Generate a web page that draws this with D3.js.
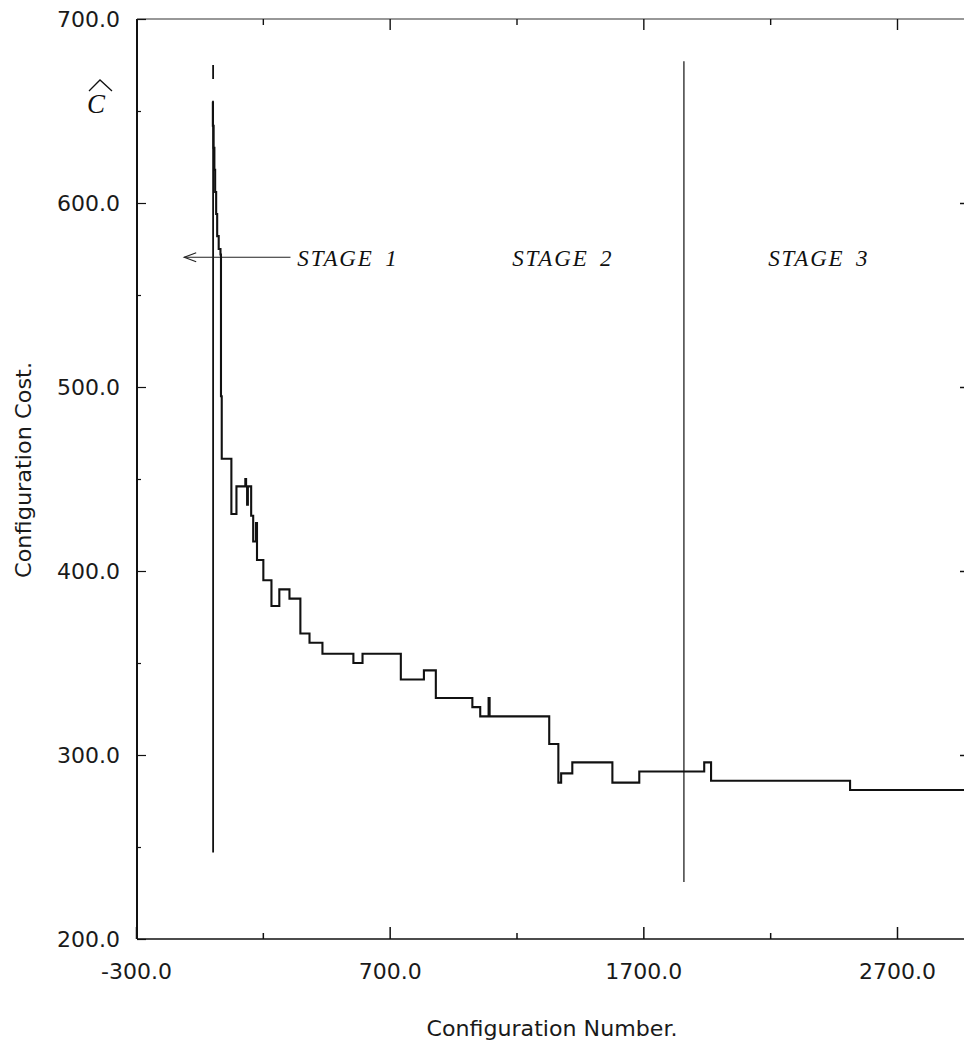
<!DOCTYPE html>
<html>
<head>
<meta charset="utf-8">
<script src="https://cdn.jsdelivr.net/npm/d3@7"></script>
<style>
  body { margin: 0; background: #fff; }
  svg { display: block; }
  .axis path { display: none; }
  .axis text { font-family: "DejaVu Sans", sans-serif; font-size: 22px; fill: #1a1a1a; }
</style>
</head>
<body>
<div id="chart"></div>
<script>
/// COST vs CONFIGURATION NUMBER (step trace) ///
const configNumber = [
  0, 3, 6, 9, 12, 16, 20, 26, 33, 35, 38, 76, 96, 131, 134, 138, 141, 154,
  162, 173, 177, 202, 234, 265, 305, 348, 384, 435, 557, 593, 744, 835, 882,
  1026, 1057, 1090, 1094, 1329, 1365, 1376, 1420, 1578, 1684, 1940, 1967,
  2515, 3000,
];
const configCost = [
  655, 642, 630, 618, 606, 594, 582, 575, 572, 495, 461, 431, 446, 450, 446,
  436, 446, 430, 416, 426, 406, 395, 381, 390, 385, 366, 361, 355, 350, 355,
  341, 346, 331, 326, 321, 331, 321, 306, 285, 290, 296, 285, 291, 296, 286,
  281, 281,
];

const xTickLabels = [-300, 700, 1700, 2700];
const xMinorTicks = [200, 1200, 2200];
const yTickLabels = [200, 300, 400, 500, 600, 700];
const yMinorTicks = [250, 350, 450, 550, 650];

// stage boundaries: [x, cost from, cost to]
const stageLines = [
  [4, 247, 675],
  [1860, 231, 677],
];
const stageNames = ["STAGE 1", "STAGE 2", "STAGE 3"];
const stageLabelX = [336, 1183, 2192];
const stageLabelCost = 566;
const arrowFrom = [309, 570.5];
const arrowTo = [-110, 570.5];

const W = 964, H = 1046;
const svg = d3
  .select("#chart")
  .append("svg")
  .attr("width", W)
  .attr("height", H);

// Define scales
const x = d3.scaleLinear().domain([-300, 2700]).range([136, 897]);
const y = d3.scaleLinear().domain([200, 700]).range([939, 19]);
const xRight = 965;

// frame lines
svg.append("line") // left
  .attr("x1", 137).attr("x2", 137).attr("y1", 19).attr("y2", 939)
  .attr("stroke", "#111").attr("stroke-width", 2);
svg.append("line") // bottom
  .attr("x1", 137).attr("x2", xRight).attr("y1", 939).attr("y2", 939)
  .attr("stroke", "#111").attr("stroke-width", 1.6);
svg.append("line") // top
  .attr("x1", 137).attr("x2", xRight).attr("y1", 19).attr("y2", 19)
  .attr("stroke", "#333").attr("stroke-width", 1.2);

// bottom axis, labels + major ticks
svg.append("g")
  .attr("class", "axis")
  .attr("transform", "translate(0,939)")
  .call(d3.axisBottom(x).tickValues(xTickLabels).tickSize(-12).tickPadding(24)
    .tickFormat((d) => (d < 0 ? "-" + Math.abs(d).toFixed(1) : d.toFixed(1))))
  .selectAll("line").attr("stroke", "#111").attr("stroke-width", 1.5);
svg.append("g")
  .attr("class", "axis")
  .attr("transform", "translate(0,939)")
  .call(d3.axisBottom(x).tickValues(xMinorTicks).tickSize(-6).tickFormat(""))
  .selectAll("line").attr("stroke", "#111").attr("stroke-width", 1.5);

// top axis (ticks only)
svg.append("g")
  .attr("class", "axis")
  .attr("transform", "translate(0,19)")
  .call(d3.axisTop(x).tickValues(xTickLabels.slice(1)).tickSize(-11).tickFormat(""))
  .selectAll("line").attr("stroke", "#111").attr("stroke-width", 1.4);
svg.append("g")
  .attr("class", "axis")
  .attr("transform", "translate(0,19)")
  .call(d3.axisTop(x).tickValues(xMinorTicks).tickSize(-6).tickFormat(""))
  .selectAll("line").attr("stroke", "#111").attr("stroke-width", 1.4);

// left axis
svg.append("g")
  .attr("class", "axis")
  .attr("transform", "translate(137,0)")
  .call(d3.axisLeft(y).tickValues(yTickLabels).tickSize(-9).tickPadding(17)
    .tickFormat((d) => d.toFixed(1)))
  .selectAll("line").attr("stroke", "#111").attr("stroke-width", 1.2);
svg.append("g")
  .attr("class", "axis")
  .attr("transform", "translate(137,0)")
  .call(d3.axisLeft(y).tickValues(yMinorTicks).tickSize(-4).tickFormat(""))
  .selectAll("line").attr("stroke", "#111").attr("stroke-width", 1.2);

// right axis (ticks only, the edge itself is cut off)
svg.append("g")
  .attr("class", "axis")
  .attr("transform", `translate(${xRight},0)`)
  .call(d3.axisRight(y).tickValues(yTickLabels.slice(1, 5)).tickSize(-5).tickFormat(""))
  .selectAll("line").attr("stroke", "#111").attr("stroke-width", 1.5);

// axis titles
svg.append("text")
  .attr("x", 552).attr("y", 1036)
  .attr("text-anchor", "middle")
  .attr("textLength", 251).attr("lengthAdjust", "spacingAndGlyphs")
  .style("font-family", "DejaVu Sans, sans-serif")
  .style("font-size", "21px").attr("fill", "#1a1a1a")
  .text("Configuration Number.");

svg.append("text")
  .attr("transform", "translate(31,470) rotate(-90)")
  .attr("text-anchor", "middle")
  .attr("textLength", 216).attr("lengthAdjust", "spacingAndGlyphs")
  .style("font-family", "DejaVu Sans, sans-serif")
  .style("font-size", "21px").attr("fill", "#1a1a1a")
  .text("Configuration Cost.");

// C-hat symbol
svg.append("text")
  .attr("x", 87).attr("y", 113)
  .style("font-family", "Liberation Serif, serif")
  .style("font-style", "italic")
  .style("font-size", "27px").attr("fill", "#111")
  .text("C");
svg.append("path")
  .attr("d", "M89,91 L100,80 L112,91")
  .attr("fill", "none").attr("stroke", "#111").attr("stroke-width", 1.3);

// stage boundary lines
svg.append("g")
  .selectAll("line")
  .data(stageLines)
  .join("line")
  .attr("x1", (d) => x(d[0]))
  .attr("x2", (d) => x(d[0]))
  .attr("y1", (d) => y(d[2]))
  .attr("y2", (d) => y(d[1]))
  .attr("stroke", "#111")
  .attr("stroke-width", (d, i) => (i === 0 ? 1.8 : 1.2))
  .attr("stroke-dasharray", (d, i) => (i === 0 ? "14,23,2000" : null));

// stage labels
svg.append("g")
  .selectAll("text")
  .data(stageNames)
  .join("text")
  .attr("x", (d, i) => x(stageLabelX[i]))
  .attr("y", y(stageLabelCost))
  .style("font-family", "Liberation Serif, serif")
  .style("font-style", "italic")
  .style("font-size", "23px")
  .style("letter-spacing", "1.8px")
  .style("word-spacing", "4px")
  .attr("fill", "#111")
  .text((d) => d);

// arrow pointing into stage 1
svg.append("line")
  .attr("x1", x(arrowFrom[0])).attr("y1", y(arrowFrom[1]))
  .attr("x2", x(arrowTo[0])).attr("y2", y(arrowTo[1]))
  .attr("stroke", "#222").attr("stroke-width", 1.1);
svg.append("path")
  .attr("d", `M${x(arrowTo[0]) + 12},${y(arrowTo[1]) - 4.5} L${x(arrowTo[0])},${y(arrowTo[1])} L${x(arrowTo[0]) + 12},${y(arrowTo[1]) + 4.5}`)
  .attr("fill", "none").attr("stroke", "#222").attr("stroke-width", 1.1);

// cost trace
const pts = configNumber.map((n, i) => [n, configCost[i]]);
const costLine = d3
  .line()
  .x((d) => x(d[0]))
  .y((d) => y(d[1]))
  .curve(d3.curveStepAfter);

svg.append("clipPath").attr("id", "plotclip")
  .append("rect").attr("x", 137).attr("y", 19).attr("width", xRight - 137).attr("height", 920);

svg.append("path")
  .datum(pts)
  .attr("clip-path", "url(#plotclip)")
  .attr("d", costLine)
  .attr("fill", "none")
  .attr("stroke", "#111")
  .attr("stroke-width", 2.1);
</script>
</body>
</html>
